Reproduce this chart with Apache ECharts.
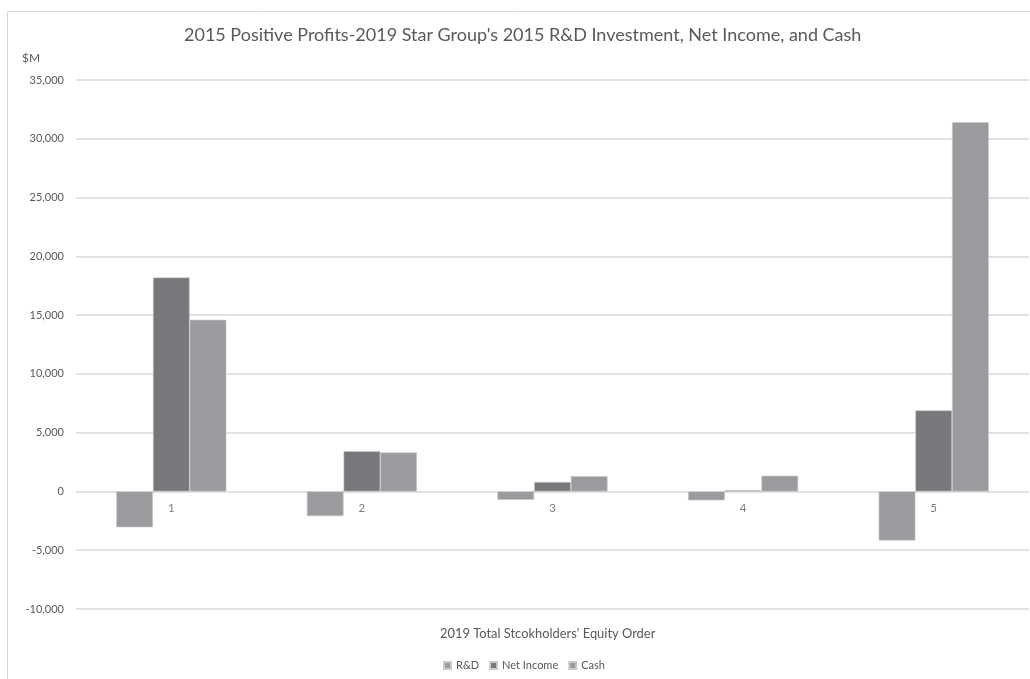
<!DOCTYPE html>
<html>
<head>
<meta charset="utf-8">
<script src="https://cdn.jsdelivr.net/npm/echarts@6/dist/echarts.min.js"></script>
<style>
  html, body { margin: 0; padding: 0; background: #fff; }
  #chart { width: 1030px; height: 679px; }
</style>
</head>
<body>
<div id="chart"></div>
<script>
// Equity-order ranks of the 2019 Star Group companies
const categories = ['1', '2', '3', '4', '5'];
// 2015 figures, $M
const rdValues = [-3050, -2100, -710, -760, -4170];
const netIncomeValues = [18200, 3430, 800, 110, 6900];
const cashValues = [14600, 3320, 1300, 1340, 31400];
const seriesNames = ['R&D', 'Net Income', 'Cash'];

const textColor = '#595959';
const font = 'Lato, "Noto Sans", sans-serif';

const chart = echarts.init(document.getElementById('chart'));

function bar(name, data, color) {
  return {
    name: name,
    type: 'bar',
    data: data,
    barWidth: 36.7,
    barGap: '0%',
    itemStyle: { color: color, borderColor: '#c9cacc', borderWidth: 0.6 }
  };
}

chart.setOption({
  animation: false,
  textStyle: { fontFamily: font, color: textColor },
  title: {
    text: "2015 Positive Profits-2019 Star Group's 2015 R&D Investment, Net Income, and Cash",
    left: 179,
    top: 21,
    textStyle: { fontFamily: font, fontSize: 18, fontWeight: 'normal', color: textColor }
  },
  graphic: [
    {
      type: 'rect',
      shape: { x: 7.5, y: 11.5, width: 1040, height: 700 },
      style: { fill: 'none', stroke: '#d9d9d9', lineWidth: 1 },
      silent: true
    },
    {
      type: 'text',
      left: 440,
      top: 627,
      style: {
        text: "2019 Total Stcokholders' Equity Order",
        font: '12.9px ' + font,
        fill: textColor
      },
      silent: true
    }
  ],
  legend: {
    data: seriesNames,
    top: 655,
    left: 438,
    itemWidth: 7,
    itemHeight: 7,
    itemGap: 10,
    icon: 'rect',
    textStyle: { fontSize: 11, color: textColor, fontFamily: font }
  },
  grid: { left: 76, right: 1, top: 80, bottom: 70, containLabel: false, outerBoundsMode: 'none' },
  xAxis: {
    type: 'category',
    data: categories,
    axisLine: { show: false },
    axisTick: { show: false },
    axisLabel: { show: false }
  },
  yAxis: {
    type: 'value',
    min: -10000,
    max: 35000,
    interval: 5000,
    name: '$M',
    nameLocation: 'end',
    nameGap: 16,
    nameTextStyle: { fontSize: 12, color: textColor, align: 'left', padding: [0, 0, 0, -54] },
    axisLine: { show: false },
    axisTick: { show: false },
    splitLine: { lineStyle: { color: '#d9d9d9', width: 1.5 } },
    axisLabel: {
      fontSize: 11,
      color: textColor,
      margin: 12,
      formatter: v => v.toLocaleString('en-US')
    }
  },
  series: [
    bar(seriesNames[0], rdValues, '#9a9b9f'),
    bar(seriesNames[1], netIncomeValues, '#77787c'),
    bar(seriesNames[2], cashValues, '#9a9b9f'),
    {
      // category labels sitting just under the zero line
      type: 'scatter',
      data: categories.map(c => [c, 0]),
      symbolSize: 1,
      itemStyle: { color: 'rgba(0,0,0,0)' },
      silent: true,
      z: 5,
      label: {
        show: true,
        position: 'bottom',
        distance: 10,
        fontSize: 11.5,
        color: textColor,
        fontFamily: font,
        formatter: p => String(p.value[0])
      }
    }
  ]
});
</script>
</body>
</html>
